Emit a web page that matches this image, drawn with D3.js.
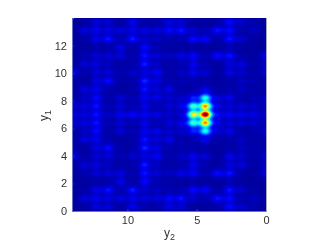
<!DOCTYPE html>
<html><head><meta charset="utf-8">
<script src="https://cdnjs.cloudflare.com/ajax/libs/d3/7.8.5/d3.min.js"></script>
<style>html,body{margin:0;padding:0;background:#fff}#c{position:relative;width:327px;height:245px}
canvas,svg{position:absolute;left:0;top:0}</style></head><body><div id="c"></div>
<script>
const y2Centers=[14,13.125,12.25,11.375,10.5,9.625,8.75,7.875,7,6.125,5.25,4.375,3.5,2.625,1.75,0.875,0];
const y1Centers=[13.7,13.09,12.48,11.87,11.26,10.65,10.04,9.43,8.82,8.21,7.61,7,6.39,5.79,5.18,4.57,3.96,3.35,2.74,2.13,1.52,0.91,0.3];
const heat=[
[0,.01,.08,.07,.01,.1,.02,.02,.09,.07,.01,.01,.02,.12,.06,.03,.01],
[0,.08,.1,.08,.08,.09,.08,.08,.12,.13,.06,.03,.13,.12,.02,.05,.01],
[.01,.02,.09,.13,.03,.14,.06,.05,.03,.03,.12,.11,.02,.13,.06,.01,.01],
[.01,.01,.02,.02,.09,.01,.12,.03,.02,.01,.01,.01,.01,.03,.01,.01,.01],
[.01,.03,.07,.07,.08,.02,.13,.07,.05,.09,.11,.03,.12,.13,.02,.01,.09],
[.01,.07,.08,.05,.02,.02,.14,.05,.02,.03,.1,.03,.01,.08,.08,.02,.06],
[.11,.02,.07,.07,.03,.06,.08,.11,.02,.05,.1,.07,.01,.09,.06,.02,.07],
[.03,.01,.08,.12,.02,.02,.15,.08,.03,.03,.03,.02,.01,.02,.05,.03,.03],
[.01,.08,.1,.03,.01,.02,.13,.07,.09,.02,.03,.09,.02,.03,.05,.02,.03],
[.02,.05,.12,.02,.07,.03,.1,.09,.06,.06,.14,.38,.08,.09,.02,.03,.06],
[.09,.08,.13,.03,.07,.03,.09,.03,.07,.09,.42,.72,.09,.07,.07,.06,.05],
[.11,.08,.13,.05,.1,.11,.1,.09,.06,.06,.6,1,.11,.11,.09,.09,.07],
[.09,.08,.13,.03,.07,.03,.09,.03,.07,.09,.42,.72,.09,.07,.07,.06,.05],
[.02,.05,.12,.02,.07,.03,.1,.09,.06,.06,.14,.38,.08,.09,.02,.03,.06],
[.01,.08,.1,.03,.01,.02,.13,.07,.09,.02,.03,.09,.02,.03,.05,.02,.03],
[.03,.01,.08,.12,.02,.02,.15,.08,.03,.03,.03,.02,.01,.02,.05,.03,.03],
[.11,.02,.07,.07,.03,.06,.08,.11,.02,.05,.1,.07,.01,.09,.06,.02,.07],
[.01,.07,.08,.05,.02,.02,.14,.05,.02,.03,.1,.03,.01,.08,.08,.02,.06],
[.01,.03,.07,.07,.08,.02,.13,.07,.05,.09,.11,.03,.12,.13,.02,.01,.09],
[.01,.01,.02,.02,.09,.01,.12,.03,.02,.01,.01,.01,.01,.03,.01,.01,.01],
[.01,.02,.09,.13,.03,.14,.06,.05,.03,.03,.12,.11,.02,.13,.06,.01,.01],
[0,.08,.1,.08,.08,.09,.08,.08,.12,.13,.06,.03,.13,.12,.02,.05,.01],
[0,.01,.08,.07,.01,.1,.02,.02,.09,.07,.01,.01,.02,.12,.06,.03,.01]];
const xTicks=[10,5,0], yTicks=[0,2,4,6,8,10,12];
const left=72,right=266,top_=18,bottom=211,W=327,H=245;
const x=d3.scaleLinear().domain([14,0]).range([left,right]);
const y=d3.scaleLinear().domain([0,14]).range([bottom,top_]);
const jet=d3.scaleLinear().domain([0,.125,.375,.625,.875,1])
 .range(["#00008f","#0000ff","#00ffff","#ffff00","#ff0000","#800000"]).clamp(true);
const base=.012, sx=.34*12.15, sy=.33*8.4;
const cxs=y2Centers.map(x), cys=y1Centers.map(y);
const cv=d3.select("#c").append("canvas").attr("width",W).attr("height",H).node();
const ctx=cv.getContext("2d");
for(let py=top_;py<bottom;py++){
 const ky=cys.map(c=>Math.exp(-((py+.5-c)**2)/(2*sy*sy)));
 for(let px=left;px<right;px++){
  let v=base;
  for(let j=0;j<cxs.length;j++){
   const kx=Math.exp(-((px+.5-cxs[j])**2)/(2*sx*sx));
   if(kx<1e-3)continue;
   for(let i=0;i<cys.length;i++) v+=heat[i][j]*kx*ky[i];
  }
  ctx.fillStyle=jet(v);ctx.fillRect(px,py,1,1);
 }
}
const svg=d3.select("#c").append("svg").attr("width",W).attr("height",H);
const font="'Liberation Sans',Arial,sans-serif", ink="#333";
const gx=svg.append("g").attr("transform",`translate(0,${bottom})`)
 .call(d3.axisBottom(x).tickValues(xTicks).tickSize(-2).tickPadding(5).tickFormat(d3.format("d")));
const gy=svg.append("g").attr("transform",`translate(${left},0)`)
 .call(d3.axisLeft(y).tickValues(yTicks).tickSize(-2).tickPadding(5).tickFormat(d3.format("d")));
[gx,gy].forEach(g=>{g.selectAll("text").attr("font-family",font).attr("font-size",11).attr("fill",ink);
 g.selectAll("line").attr("stroke","#5560c8").attr("stroke-width",.6);
 g.select(".domain").attr("stroke","#6a72c8").attr("stroke-width",1);});
svg.append("line").attr("x1",right+.5).attr("x2",right+.5).attr("y1",top_).attr("y2",bottom).attr("stroke","#aab").attr("stroke-width",1);
const xl=svg.append("text").attr("x",164).attr("y",237).attr("font-family",font).attr("font-size",12).attr("fill",ink);
xl.append("tspan").text("y");xl.append("tspan").attr("dy",3).attr("font-size",9).text("2");
const yl=svg.append("text").attr("transform","translate(48,121) rotate(-90)").attr("font-family",font).attr("font-size",12).attr("fill",ink);
yl.append("tspan").text("y");yl.append("tspan").attr("dy",3).attr("font-size",9).text("1");
</script></body></html>
